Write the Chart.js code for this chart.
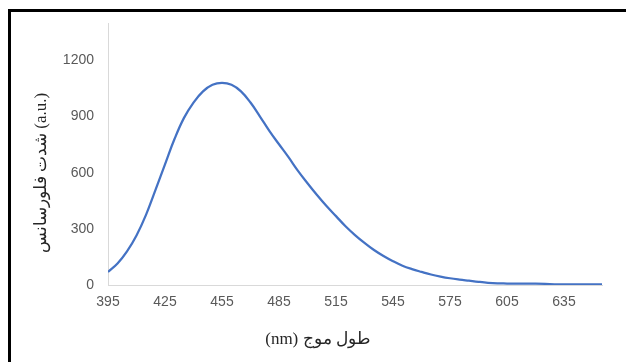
<!DOCTYPE html>
<html>
<head>
<meta charset="utf-8">
<script src="https://cdn.jsdelivr.net/npm/chart.js@4.4.1/dist/chart.umd.min.js"></script>
<style>
  html, body { margin: 0; padding: 0; background: #fff; overflow: hidden; }
  #wrap { position: relative; width: 626px; height: 362px; }
  #frame {
    position: absolute; left: 8px; top: 9px; width: 700px; height: 420px;
    border-left: 3px solid #000; border-top: 3px solid #000;
  }
  #chart { position: absolute; left: 0; top: 0; }
</style>
</head>
<body>
<div id="wrap">
  <div id="frame"></div>
  <canvas id="chart" width="626" height="362"></canvas>
</div>
<script>
// emission spectrum, every 5 nm
const wavelengths = [
  395, 400, 405, 410, 415, 420, 425, 430, 435, 440,
  445, 450, 455, 460, 465, 470, 475, 480, 485, 490,
  495, 500, 505, 510, 515, 520, 525, 530, 535, 540,
  545, 550, 555, 560, 565, 570, 575, 580, 585, 590,
  595, 600, 605, 610, 615, 620, 625, 630, 635, 640,
  645, 650, 655
];
const intensity = [
  70, 115, 180, 265, 375, 508, 645, 780, 893, 975,
  1035, 1070, 1080, 1070, 1035, 975, 900, 822, 752, 683,
  610, 544, 481, 422, 368, 314, 267, 225, 187, 155,
  127, 103, 85, 70, 56, 45, 36, 29, 23, 17,
  12, 9, 8, 7, 7, 7, 6, 4, 3, 3,
  3, 3, 3
];
const xTickLabels = [395, 425, 455, 485, 515, 545, 575, 605, 635];
const yTickLabels = [0, 300, 600, 900, 1200];
const xTitle = 'طول موج (nm)';
const yTitle = 'شدت فلورسانس (a.u.)';

const tickFont = { family: '"Liberation Sans", Arial, sans-serif', size: 14 };

// axis titles sit off-centre in the original, so draw them by hand
const axisTitles = {
  id: 'axisTitles',
  afterDraw(chart) {
    const ctx = chart.ctx;
    ctx.save();
    ctx.fillStyle = '#262626';
    ctx.font = '17px "Liberation Serif", "Times New Roman", serif';
    ctx.textAlign = 'center';
    ctx.textBaseline = 'middle';
    ctx.direction = 'rtl';
    ctx.fillText(xTitle, 318, 340);
    ctx.restore();

    ctx.save();
    ctx.fillStyle = '#262626';
    ctx.font = '17px "Liberation Serif", "Times New Roman", serif';
    ctx.textAlign = 'center';
    ctx.textBaseline = 'middle';
    ctx.direction = 'ltr';
    ctx.translate(42, 173);
    ctx.rotate(-Math.PI / 2);
    ctx.fillText(yTitle, 0, 0);
    ctx.restore();
  }
};

new Chart(document.getElementById('chart'), {
  type: 'line',
  data: {
    datasets: [{
      data: wavelengths.map((w, i) => ({ x: w, y: intensity[i] })),
      borderColor: '#4472C4',
      borderWidth: 2.25,
      pointRadius: 0,
      tension: 0.4,
      fill: false
    }]
  },
  options: {
    responsive: false,
    animation: false,
    devicePixelRatio: 1,
    layout: { padding: { left: 0, right: 24, top: 23, bottom: 0 } },
    plugins: { legend: { display: false }, tooltip: { enabled: false } },
    scales: {
      x: {
        type: 'linear',
        min: 395,
        max: 655,
        afterBuildTicks: (scale) => { scale.ticks = xTickLabels.map(v => ({ value: v })); },
        afterFit: (scale) => { scale.height = 77; },
        grid: { display: false, drawTicks: false },
        border: { display: true, color: '#d9d9d9', width: 1 },
        ticks: { color: '#595959', font: tickFont, padding: 9, maxRotation: 0, autoSkip: false,
                 callback: (v) => String(v) }
      },
      y: {
        min: 0,
        max: 1400,
        afterBuildTicks: (scale) => { scale.ticks = yTickLabels.map(v => ({ value: v })); },
        afterFit: (scale) => { scale.width = 108; },
        grid: { display: false, drawTicks: false },
        border: { display: true, color: '#d9d9d9', width: 1 },
        ticks: { color: '#595959', font: tickFont, padding: 14, callback: (v) => String(v) }
      }
    }
  },
  plugins: [axisTitles]
});
</script>
</body>
</html>
